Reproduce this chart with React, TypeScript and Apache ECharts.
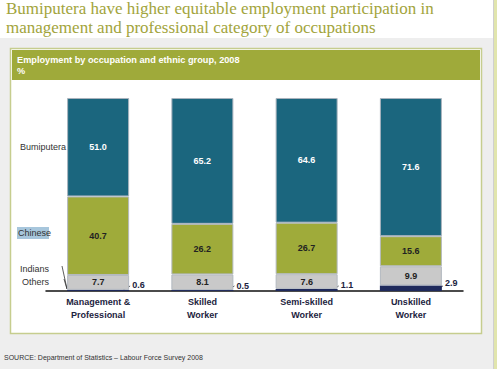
import React, { useEffect, useRef } from "react";
import * as echarts from "echarts";

const categories = ["Management &\nProfessional", "Skilled\nWorker", "Semi-skilled\nWorker", "Unskilled\nWorker"];
const bumiputera = [51.0, 65.2, 64.6, 71.6];
const chinese = [40.7, 26.2, 26.7, 15.6];
const indians = [7.7, 8.1, 7.6, 9.9];
const others = [0.6, 0.5, 1.1, 2.9];
const legendNames = ["Bumiputera", "Chinese", "Indians", "Others"];
const titleLines = ["Bumiputera have higher equitable employment participation in", "management and professional category of occupations"];
const subtitleText = "Employment by occupation and ethnic group, 2008\n%";
const sourceText = "SOURCE: Department of Statistics \u2013 Labour Force Survey 2008";

const SANS = "'Liberation Sans', Arial, sans-serif";
const BAR_W = 62;

export default function App() {
  const ref = useRef<HTMLDivElement>(null);
  useEffect(() => {
    if (!ref.current) return;
    const chart = echarts.init(ref.current, null, { renderer: "svg" });
    const fmt = (p: any) => Number(p.value).toFixed(1);
    const valLabel = (color: string) => ({
      show: true,
      position: "inside" as const,
      formatter: fmt,
      fontSize: 9,
      fontWeight: "bold" as const,
      fontFamily: SANS,
      color,
    });
    const titleFont = "17px 'Liberation Serif', Georgia, serif";
    const baseGraphics: any[] = [
      { type: "rect", z: -10, shape: { x: 0, y: 0, width: 493, height: 38 }, style: { fill: "#ffffff" } },
      { type: "rect", z: -10, shape: { x: 493, y: 0, width: 1, height: 369 }, style: { fill: "#cfcfcf" } },
      { type: "rect", z: -10, shape: { x: 494, y: 0, width: 3, height: 369 }, style: { fill: "#e1e5ad" } },
      { type: "rect", z: -9, shape: { x: 10.5, y: 48.5, width: 471, height: 285 }, style: { fill: "#ffffff", stroke: "#c6cd8e", lineWidth: 1.5 } },
      { type: "rect", z: -8, shape: { x: 12, y: 50, width: 468, height: 30 }, style: { fill: "#9faa3a" } },
      { type: "text", x: 6, y: 8.5, style: { text: titleLines[0], fill: "#a2a43c", font: titleFont, textVerticalAlign: "middle" } },
      { type: "text", x: 6, y: 27.5, style: { text: titleLines[1], fill: "#a2a43c", font: titleFont, textVerticalAlign: "middle" } },
      {
        type: "text", x: 17, y: 54,
        style: { text: subtitleText, fill: "#ffffff", font: `bold 9.2px ${SANS}`, lineHeight: 11, textVerticalAlign: "top" },
      },
      {
        type: "text", x: 4, y: 357,
        style: { text: sourceText, fill: "#333333", font: `7px ${SANS}`, textVerticalAlign: "middle" },
      },
      { type: "text", x: 20, y: 147, style: { text: legendNames[0], fill: "#333333", font: `9px ${SANS}`, textVerticalAlign: "middle" } },
      { type: "rect", z: 1, shape: { x: 17, y: 227, width: 32, height: 12 }, style: { fill: "#a7c6dc" } },
      { type: "text", z: 2, x: 18, y: 233, style: { text: legendNames[1], fill: "#333333", font: `9px ${SANS}`, textVerticalAlign: "middle" } },
      { type: "text", x: 20, y: 269, style: { text: legendNames[2], fill: "#333333", font: `9px ${SANS}`, textVerticalAlign: "middle" } },
      { type: "text", x: 22, y: 282, style: { text: legendNames[3], fill: "#333333", font: `9px ${SANS}`, textVerticalAlign: "middle" } },
      { type: "line", shape: { x1: 62, y1: 266, x2: 67, y2: 289 }, style: { stroke: "#333333", lineWidth: 0.8 } },
      { type: "line", shape: { x1: 64, y1: 279, x2: 67, y2: 289 }, style: { stroke: "#333333", lineWidth: 0.8 } },
    ];
    const option: any = {
      animation: false,
      backgroundColor: "#eeeeee",
      grid: { left: 46, right: 34, top: 98, bottom: 78, containLabel: false },
      xAxis: {
        type: "category",
        data: categories,
        axisLine: { lineStyle: { color: "#111111", width: 1.5 } },
        axisTick: { show: false },
        axisLabel: { fontSize: 9, fontWeight: "bold", fontFamily: SANS, color: "#1c2340", lineHeight: 13, margin: 4 },
      },
      yAxis: { type: "value", min: 0, max: 100, show: false, splitLine: { show: false } },
      graphic: baseGraphics,
      series: [
        {
          name: legendNames[3], type: "bar", stack: "total", barWidth: BAR_W, data: others,
          itemStyle: { color: "#1f2a5c" },
          label: { show: true, position: "right", distance: 3, offset: [0, -5], formatter: fmt, fontSize: 9, fontWeight: "bold", fontFamily: SANS, color: "#1c2340" },
        },
        {
          name: legendNames[2], type: "bar", stack: "total", barWidth: BAR_W, data: indians,
          itemStyle: { color: "#c9c9c9", borderColor: "#b3b9c0", borderWidth: 1 },
          label: valLabel("#222222"),
        },
        {
          name: legendNames[1], type: "bar", stack: "total", barWidth: BAR_W, data: chinese,
          itemStyle: { color: "#9fab3a", borderColor: "#b3b9c0", borderWidth: 1 },
          label: valLabel("#222222"),
        },
        {
          name: legendNames[0], type: "bar", stack: "total", barWidth: BAR_W, data: bumiputera,
          itemStyle: { color: "#1b667e", borderColor: "#a9b3bd", borderWidth: 1 },
          label: valLabel("#ffffff"),
        },
      ],
    };
    chart.setOption(option);
    const leaders: any[] = others.map((_, i) => {
      const p = chart.convertToPixel({ gridIndex: 0 }, [i, 0]) as number[];
      const right = p[0] + BAR_W / 2;
      return {
        type: "line",
        shape: { x1: right - 6, y1: p[1] - 1, x2: right + 1, y2: p[1] - 5 },
        style: { stroke: "#222222", lineWidth: 0.8 },
      };
    });
    chart.setOption({ graphic: baseGraphics.concat(leaders) });
    return () => chart.dispose();
  }, []);
  return <div ref={ref} style={{ position: "fixed", left: 0, top: 0, width: 497, height: 369 }} />;
}
